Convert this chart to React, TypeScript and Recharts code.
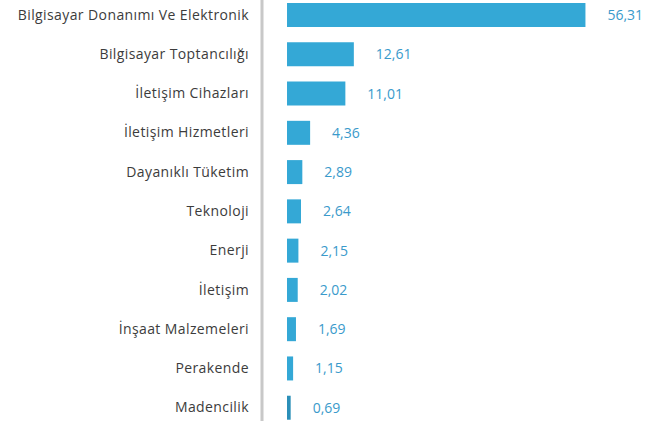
import { Bar, BarChart, Cell, LabelList, XAxis, YAxis } from 'recharts';

const sectors = [
  'Bilgisayar Donanımı Ve Elektronik',
  'Bilgisayar Toptancılığı',
  'İletişim Cihazları',
  'İletişim Hizmetleri',
  'Dayanıklı Tüketim',
  'Teknoloji',
  'Enerji',
  'İletişim',
  'İnşaat Malzemeleri',
  'Perakende',
  'Madencilik',
];

const weights = [56.31, 12.61, 11.01, 4.36, 2.89, 2.64, 2.15, 2.02, 1.69, 1.15, 0.69];

const data = sectors.map((name, i) => ({ name, value: weights[i] }));

const formatValue = (v: unknown) => Number(v).toFixed(2).replace('.', ',');

export default function App() {
  return (
    <div style={{ position: 'absolute', left: 0, top: -5, width: 658, height: 432, background: '#fff' }}>
      <BarChart
        width={658}
        height={432}
        data={data}
        layout="vertical"
        margin={{ top: 0, right: 0, bottom: 0, left: 0 }}
        barCategoryGap={0}
      >
        <XAxis type="number" hide domain={[-4.72, 70]} />
        <YAxis
          type="category"
          dataKey="name"
          width={262}
          tickSize={0}
          tickMargin={13}
          tickLine={false}
          axisLine={{ stroke: '#c8c8c8', strokeWidth: 3 }}
          tick={{ fill: '#3c3c3c', fontSize: 14, fontFamily: 'Open Sans', letterSpacing: 0.4 }}
          interval={0}
        />
        <Bar dataKey="value" barSize={24} fill="#34a8d6" isAnimationActive={false}>
          {data.map((d, i) => (
            <Cell key={d.name} fill={i === data.length - 1 ? '#2b8fb8' : '#34a8d6'} />
          ))}
          <LabelList
            dataKey="value"
            position="right"
            offset={22}
            formatter={formatValue}
            style={{ fill: '#3a9acb', fontSize: 14, fontFamily: 'Open Sans' }}
          />
        </Bar>
      </BarChart>
    </div>
  );
}
